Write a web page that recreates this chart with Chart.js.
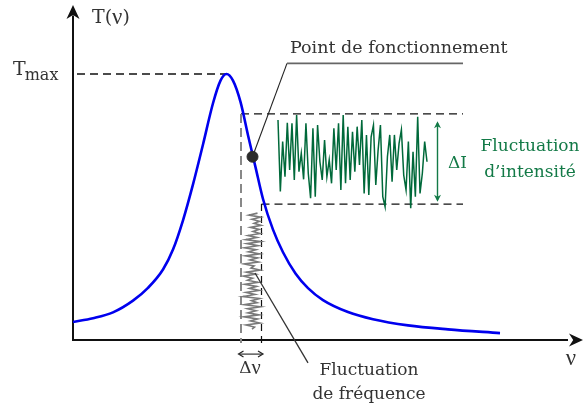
<!DOCTYPE html>
<html><head><meta charset="utf-8">
<script src="https://cdn.jsdelivr.net/npm/chart.js@4"></script>
<style>html,body{margin:0;padding:0;background:#fff}canvas{display:block}</style>
</head><body>
<canvas id="c" width="584" height="407"></canvas>
<script>
// Transmission curve T(ν): ν in arbitrary units, T in % of Tmax
const curveNu = [0,4,8,12,15,18,20,22,24,26,28,29.5,30.7,32,33.5,35,36.5,38,40,42,44.5,47,50,55,60,67,75,85.4];
const curveT  = [6.8,8.2,10.4,14.8,19.6,26.5,34,45,58.5,73.5,89,97.5,100,97.5,89.5,77,65,53,41.5,33,25,19.5,15,10.5,7.8,5.5,4,2.6];

// Intensity fluctuation (same units as T), sampled in time
const intensity = [82.7,55.8,74.6,61.4,81.7,63.9,81.5,60.2,84.6,63.3,70.2,60.4,81.5,62.7,53.3,79.6,53.9,80.8,67.0,60.2,
  75.2,61.4,67.7,58.9,79.6,63.9,81.5,56.4,84.6,58.9,80.2,60.2,78.3,63.3,80.2,65.8,82.7,55.1,77.1,54.5,
  76.4,80.8,58.3,71.4,80.8,53.9,50.1,68.9,77.1,59.5,77.1,63.9,73.9,79.0,62.0,56.4,74.6,49.5,70.8,53.9,
  83.9,55.1,62.7,74.6,67.0];

// Frequency fluctuation (ν units), sampled in time (time runs downward)
const frequency = [36.9,35.2,37.5,35.8,37.3,36.2,37.6,35.5,37.2,36.0,37.4,35.0,36.8,34.6,37.5,34.8,37.0,34.3,36.6,35.1,
  37.3,34.5,36.9,35.4,37.1,34.2,36.2,35.6,37.4,34.7,36.5,34.1,35.9,34.9,37.0,34.4,36.7,35.3,37.2,34.6,
  36.4,34.0,37.3,35.7,36.8,34.3,37.5,34.9,36.6,35.0,37.2,34.2,36.9,35.5,37.4,34.6,36.3,35.8];

// Key values
const T_MAX = 100, PEAK_NU = 30.7;
const OP_NU = 35.9, OP_T = 68.9;          // point de fonctionnement
const I_HIGH = 85.0, I_LOW = 51.1;        // ΔI bounds
const NU_LOW = 33.6, NU_HIGH = 37.7;      // Δν bounds

// ---- layout of the scales (hidden) ----
const X_MIN = -14.6, X_MAX = 102.2, Y_MIN = -25.19, Y_MAX = 127.82;
const G_START = 41, G_END = 70.8;          // where intensity trace sits along ν
const gPer = (G_END - G_START) / (intensity.length - 1);
const F_TOP = 47.7, F_BOT = 4.1;           // where frequency trace sits along T
const fPer = (F_TOP - F_BOT) / (frequency.length - 1);

const FONT = "'DejaVu Serif', serif";
const GREEK = "'Liberation Serif', serif";
const TXT = '#333';
const GREEN = '#137a47';

function line(ctx, x1, y1, x2, y2, color, w, dash) {
  ctx.save();
  ctx.strokeStyle = color; ctx.lineWidth = w; ctx.setLineDash(dash || []);
  ctx.beginPath(); ctx.moveTo(x1, y1); ctx.lineTo(x2, y2); ctx.stroke();
  ctx.restore();
}
function head(ctx, x1, y1, x2, y2, color, len, wid, filled) {
  const a = Math.atan2(y2 - y1, x2 - x1);
  ctx.save();
  ctx.translate(x2, y2); ctx.rotate(a);
  ctx.beginPath();
  if (filled) {
    ctx.moveTo(0, 0); ctx.lineTo(-len, -wid); ctx.lineTo(-len * 0.7, 0); ctx.lineTo(-len, wid); ctx.closePath();
    ctx.fillStyle = color; ctx.fill();
  } else {
    ctx.moveTo(-len, -wid); ctx.lineTo(0, 0); ctx.lineTo(-len, wid);
    ctx.strokeStyle = color; ctx.lineWidth = 1.2; ctx.setLineDash([]); ctx.stroke();
  }
  ctx.restore();
}
function text(ctx, s, x, y, size, color, align) {
  ctx.save();
  ctx.font = size + 'px ' + FONT; ctx.fillStyle = color;
  ctx.textAlign = align || 'left'; ctx.textBaseline = 'middle';
  ctx.fillText(s, x, y);
  ctx.restore();
}
// text made of runs [string, font, sizeScale]
function runs(ctx, parts, x, y, size, color, align) {
  ctx.save();
  ctx.fillStyle = color; ctx.textBaseline = 'middle'; ctx.textAlign = 'left';
  let total = 0;
  parts.forEach(p => { ctx.font = (size * (p[2] || 1)) + 'px ' + p[1]; total += ctx.measureText(p[0]).width; });
  let cx = align === 'center' ? x - total / 2 : x;
  parts.forEach(p => { ctx.font = (size * (p[2] || 1)) + 'px ' + p[1]; ctx.fillText(p[0], cx, y); cx += ctx.measureText(p[0]).width; });
  ctx.restore();
}

const deco = {
  id: 'deco',
  beforeDatasetsDraw(chart) {
    const ctx = chart.ctx, sx = chart.scales.x, sy = chart.scales.y;
    const X = v => sx.getPixelForValue(v), Y = v => sy.getPixelForValue(v);
    // axes
    line(ctx, X(0), Y(-0.4), X(0), Y(122), '#111', 2);
    head(ctx, X(0), Y(100), X(0), Y(125.9), '#111', 14, 6.5, true);
    line(ctx, X(-0.2), Y(0), X(99), Y(0), '#111', 2);
    head(ctx, X(0), Y(0), X(102), Y(0), '#111', 14, 6.5, true);
    // Tmax guide
    line(ctx, X(0.8), Y(T_MAX), X(PEAK_NU), Y(T_MAX), '#111', 1.4, [8, 5]);
    // ΔI box
    line(ctx, X(NU_LOW), Y(I_HIGH), X(78), Y(I_HIGH), '#111', 1.2, [8, 5]);
    line(ctx, X(NU_HIGH), Y(I_LOW), X(78), Y(I_LOW), '#111', 1.2, [8, 5]);
    // Δν guides
    line(ctx, X(NU_LOW), Y(I_HIGH), X(NU_LOW), Y(-1.1), '#888', 2, [9, 5]);
    line(ctx, X(NU_HIGH), Y(I_LOW), X(NU_HIGH), Y(-3), '#111', 1.2, [7, 5]);
    // leader to operating point
    line(ctx, X(OP_NU), Y(OP_T), X(42.8), Y(104), '#222', 1.1);
    line(ctx, X(42.8), Y(104), X(78), Y(104), '#666', 1.6);
  },
  afterDatasetsDraw(chart) {
    const ctx = chart.ctx, sx = chart.scales.x, sy = chart.scales.y;
    const X = v => sx.getPixelForValue(v), Y = v => sy.getPixelForValue(v);
    // ΔI arrow
    line(ctx, X(72.9), Y(81.6), X(72.9), Y(52.7), GREEN, 1.4);
    head(ctx, X(72.9), Y(70), X(72.9), Y(82.2), GREEN, 7, 3.5, true);
    head(ctx, X(72.9), Y(60), X(72.9), Y(52.0), GREEN, 7, 3.5, true);
    text(ctx, 'ΔI', X(76.9), Y(66.2), 17, GREEN, 'center');
    text(ctx, 'Fluctuation', X(91.4), Y(72.9), 17, GREEN, 'center');
    text(ctx, 'd’intensité', X(91.4), Y(63.0), 17, GREEN, 'center');
    // Δν arrow
    line(ctx, X(33.3), Y(-5.3), X(37.8), Y(-5.3), '#222', 1.1);
    head(ctx, X(36), Y(-5.3), X(33.1), Y(-5.3), '#222', 5, 3, false);
    head(ctx, X(35), Y(-5.3), X(38.0), Y(-5.3), '#222', 5, 3, false);
    runs(ctx, [['Δ', FONT], ['ν', GREEK, 1.2]], X(35.4), Y(-10.7), 17, TXT, 'center');
    // frequency leader + labels
    line(ctx, X(36.4), Y(25.2), X(47), Y(-8.6), '#333', 1.3);
    text(ctx, 'Fluctuation', X(59.2), Y(-11.6), 17, TXT, 'center');
    text(ctx, 'de fréquence', X(59.2), Y(-20.7), 17, TXT, 'center');
    // top labels
    text(ctx, 'Point de fonctionnement', X(43.4), Y(109.6), 17.5, TXT, 'left');
    runs(ctx, [['T(', FONT], ['ν', GREEK, 1.2], [')', FONT]], X(3.8), Y(121), 19, TXT, 'left');
    ctx.save();
    ctx.font = '19px ' + FONT; ctx.fillStyle = TXT; ctx.textBaseline = 'alphabetic';
    ctx.fillText('T', X(-12), Y(T_MAX) + 1);
    const tw = ctx.measureText('T').width;
    ctx.font = '16px ' + FONT;
    ctx.fillText('max', X(-12) + tw - 1, Y(T_MAX) + 6);
    ctx.restore();
    runs(ctx, [['ν', GREEK, 1.2]], X(99.6), Y(-7.1), 19, TXT, 'center');
  }
};

new Chart(document.getElementById('c'), {
  type: 'scatter',
  data: {
    datasets: [
      {
        data: curveNu.map((v, i) => ({ x: v, y: curveT[i] })),
        showLine: true, borderColor: '#0000ee', borderWidth: 2.6, pointRadius: 0,
        cubicInterpolationMode: 'monotone', xAxisID: 'x', yAxisID: 'y', order: 2
      },
      {
        data: intensity.map((v, i) => ({ x: i, y: v })),
        showLine: true, borderColor: '#00693a', borderWidth: 1.5, pointRadius: 0,
        xAxisID: 'xt', yAxisID: 'y', order: 3
      },
      {
        data: frequency.map((v, i) => ({ x: v, y: i })),
        showLine: true, borderColor: '#7a7a7a', borderWidth: 1.6, pointRadius: 0,
        xAxisID: 'x', yAxisID: 'yt', order: 3
      },
      {
        data: [{ x: OP_NU, y: OP_T }],
        pointRadius: 5.5, pointBackgroundColor: '#2b2b2b', pointBorderColor: '#2b2b2b',
        xAxisID: 'x', yAxisID: 'y', order: 1
      }
    ]
  },
  options: {
    responsive: false, animation: false,
    layout: { padding: 0, autoPadding: false },
    plugins: { legend: { display: false }, tooltip: { enabled: false }, title: { display: false } },
    scales: {
      x: { type: 'linear', display: false, min: X_MIN, max: X_MAX },
      y: { type: 'linear', display: false, min: Y_MIN, max: Y_MAX },
      xt: { type: 'linear', display: false, min: (X_MIN - G_START) / gPer, max: (intensity.length - 1) + (X_MAX - G_END) / gPer },
      yt: { type: 'linear', display: false, reverse: true, min: (F_TOP - Y_MAX) / fPer, max: (F_TOP - Y_MIN) / fPer }
    }
  },
  plugins: [deco]
});
</script>
</body></html>
